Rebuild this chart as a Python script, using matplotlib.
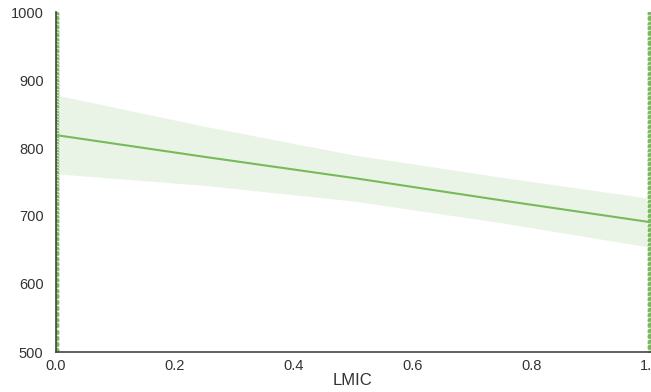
import numpy as np
import matplotlib
matplotlib.use('Agg')
from matplotlib import pyplot as plt

# scores by LMIC group (0 = no, 1 = yes)
y_lmic0 = [1045, 1020, 1004, 997, 991, 984, 978, 971, 966, 959, 953, 948,
           942, 936, 931, 925, 920, 914, 909, 903, 898, 893, 888, 883, 878,
           873, 869, 864, 860, 855, 851, 847, 842, 838, 834, 830, 826, 822,
           818, 814, 810, 806, 802, 798, 794, 790, 786, 781, 777, 772, 768,
           763, 758, 754, 749, 744, 739, 733, 728, 722, 717, 711, 705, 699,
           693, 686, 680, 673, 666, 659, 652, 645, 637, 630, 622, 614, 606,
           598, 590, 582, 573, 565, 556, 547, 539, 530, 521, 512, 503, 495,
           480]
y_lmic1 = [1030, 1006, 998, 991, 983, 976, 969, 961, 954, 946, 939, 931,
           924, 917, 909, 902, 895, 887, 880, 873, 866, 859, 852, 845, 838,
           831, 824, 817, 810, 803, 796, 789, 782, 776, 769, 762, 755, 748,
           741, 734, 728, 721, 714, 707, 700, 693, 686, 679, 672, 665, 658,
           651, 644, 637, 630, 622, 615, 608, 600, 593, 585, 578, 570, 562,
           555, 547, 539, 531, 523, 515, 507, 499, 485]

# regression line and CI band
x_grid = [0.0, 0.25, 0.5, 0.75, 1.0]
fit_y = [819, 787, 756, 723, 691]
ci_lo = [762, 745, 722, 690, 654]
ci_hi = [878, 832, 790, 757, 726]

col = '#78b95a'

fig = plt.figure(figsize=(6.51, 3.92), dpi=100)
ax = fig.add_axes([56 / 651, 40 / 392, 594 / 651, 340 / 392])

x_pts = [0] * len(y_lmic0) + [1] * len(y_lmic1)
ax.scatter(x_pts, y_lmic0 + y_lmic1, s=24, color=col, edgecolor='white',
           linewidth=0.5, zorder=2)
ax.fill_between(x_grid, ci_lo, ci_hi, color=col, alpha=0.15, linewidth=0)
ax.plot(x_grid, fit_y, color=col, lw=1.5)

ax.set_xlim(0, 1)
ax.set_ylim(500, 1000)
ax.set_xticks(np.arange(0, 1.01, 0.2))
ax.set_xticklabels(['0.0', '0.2', '0.4', '0.6', '0.8', '1.0'])
ax.set_yticks(range(500, 1001, 100))
ax.tick_params(length=0, labelsize=10.5, labelcolor='#333333')
ax.tick_params(axis='y', pad=9)
ax.tick_params(axis='x', pad=5)
for lab in ax.get_xticklabels() + ax.get_yticklabels():
    lab.set_family('Liberation Sans')
ax.set_xlabel('LMIC', fontsize=12, color='#333333', family='Liberation Sans',
              labelpad=0)

for s in ['top', 'right']:
    ax.spines[s].set_visible(False)
for s in ['left', 'bottom']:
    ax.spines[s].set_color('#444444')
    ax.spines[s].set_linewidth(1.2)

fig.savefig('out.png', dpi=100)
